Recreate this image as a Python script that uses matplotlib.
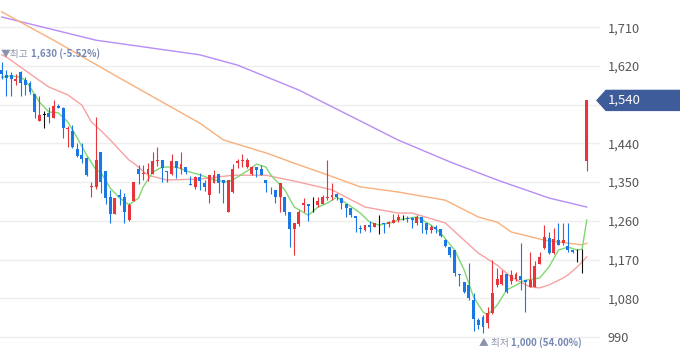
import matplotlib.pyplot as plt
from matplotlib.patches import Polygon
from matplotlib.transforms import IdentityTransform

plt.rcParams['font.family'] = ['Noto Sans CJK KR', 'DejaVu Sans']

# daily OHLC, oldest first
opens = [1610, 1599, 1599, 1584, 1607, 1587, 1580, 1556, 1492, 1506,
         1510, 1498, 1527, 1523, 1474, 1470, 1427, 1413, 1407, 1338,
         1338, 1421, 1376, 1315, 1277, 1320, 1315, 1262, 1307, 1380,
         1368, 1370, 1370, 1398, 1401, 1376, 1370, 1398, 1381, 1384,
         1346, 1338, 1363, 1349, 1320, 1347, 1368, 1355, 1281, 1328,
         1394, 1398, 1386, 1370, 1386, 1380, 1356, 1335, 1332, 1316,
         1316, 1281, 1242, 1252, 1297, 1298, 1305, 1297, 1300, 1312,
         1316, 1322, 1312, 1298, 1289, 1272, 1242, 1239, 1250, 1246,
         1254, 1256, 1253, 1254, 1262, 1268, 1267, 1266, 1256, 1268,
         1254, 1239, 1246, 1240, 1215, 1200, 1191, 1136, 1118, 1111,
         1077, 1030, 1037, 1022, 1045, 1111, 1114, 1136, 1120, 1125,
         1132, 1122, 1105, 1105, 1160, 1196, 1219, 1186, 1215, 1208,
         1202, 1191, 1187, 1187, 1400]
highs = [1630, 1611, 1605, 1601, 1608, 1595, 1584, 1556, 1551, 1515,
         1525, 1541, 1531, 1525, 1481, 1483, 1440, 1440, 1409, 1351,
         1501, 1421, 1376, 1332, 1312, 1335, 1324, 1301, 1351, 1390,
         1390, 1394, 1421, 1431, 1401, 1376, 1415, 1398, 1420, 1386,
         1364, 1364, 1372, 1355, 1367, 1378, 1368, 1355, 1355, 1392,
         1403, 1415, 1405, 1387, 1386, 1390, 1356, 1339, 1332, 1347,
         1316, 1281, 1254, 1286, 1312, 1298, 1316, 1316, 1320, 1401,
         1347, 1325, 1312, 1298, 1289, 1272, 1250, 1250, 1259, 1256,
         1273, 1256, 1260, 1277, 1277, 1273, 1271, 1270, 1274, 1270,
         1254, 1250, 1250, 1240, 1217, 1200, 1192, 1136, 1118, 1163,
         1091, 1034, 1040, 1060, 1170, 1150, 1146, 1136, 1146, 1140,
         1209, 1122, 1187, 1167, 1188, 1250, 1235, 1243, 1254, 1254,
         1254, 1192, 1194, 1194, 1540]
lows = [1590, 1551, 1551, 1576, 1551, 1553, 1556, 1500, 1492, 1475,
        1487, 1498, 1522, 1452, 1432, 1429, 1409, 1394, 1365, 1316,
        1335, 1324, 1299, 1256, 1275, 1297, 1256, 1260, 1307, 1346,
        1356, 1353, 1368, 1388, 1351, 1351, 1367, 1359, 1369, 1370,
        1343, 1335, 1332, 1329, 1301, 1347, 1324, 1301, 1281, 1325,
        1382, 1386, 1382, 1366, 1361, 1367, 1328, 1322, 1301, 1281,
        1274, 1200, 1180, 1248, 1281, 1260, 1281, 1293, 1300, 1308,
        1308, 1308, 1287, 1270, 1270, 1235, 1231, 1236, 1235, 1246,
        1229, 1231, 1246, 1254, 1258, 1262, 1258, 1243, 1250, 1231,
        1229, 1231, 1231, 1223, 1198, 1177, 1132, 1108, 1093, 1077,
        1003, 1008, 1000, 1010, 1043, 1105, 1110, 1093, 1112, 1120,
        1099, 1049, 1105, 1105, 1160, 1194, 1184, 1184, 1203, 1204,
        1188, 1185, 1165, 1139, 1376]
closes = [1601, 1591, 1590, 1590, 1580, 1576, 1560, 1512, 1506, 1506,
          1501, 1527, 1523, 1477, 1477, 1432, 1411, 1404, 1367, 1342,
          1401, 1351, 1312, 1277, 1312, 1316, 1281, 1297, 1351, 1368,
          1372, 1380, 1398, 1401, 1382, 1373, 1398, 1382, 1392, 1373,
          1344, 1363, 1353, 1339, 1367, 1367, 1347, 1347, 1355, 1380,
          1398, 1401, 1401, 1386, 1378, 1367, 1349, 1333, 1315, 1347,
          1281, 1242, 1254, 1280, 1301, 1294, 1305, 1305, 1316, 1316,
          1320, 1316, 1301, 1289, 1274, 1266, 1241, 1250, 1246, 1254,
          1254, 1253, 1257, 1262, 1270, 1268, 1264, 1262, 1270, 1256,
          1239, 1245, 1240, 1225, 1201, 1180, 1138, 1133, 1095, 1080,
          1031, 1018, 1012, 1045, 1093, 1125, 1134, 1095, 1135, 1136,
          1122, 1118, 1122, 1155, 1177, 1223, 1186, 1217, 1204, 1215,
          1192, 1187, 1187, 1187, 1540]

# moving averages (candle index, price)
ma5_idx = [0, 2, 4, 5, 6, 8, 10, 12, 14, 16, 18, 20, 21, 23, 25, 27, 29, 30, 32,
           34, 37, 40, 42, 45, 48, 50, 53, 54, 56, 57, 60, 62, 65, 67, 69, 71,
           73, 76, 78, 80, 83, 84, 88, 91, 93, 96, 98, 100, 102, 103, 105, 107,
           111, 114, 116, 118, 120, 122, 123, 124]
ma5_val = [1594, 1597, 1594, 1587, 1571, 1536, 1513, 1511, 1490, 1453, 1413,
           1378, 1373, 1336, 1313, 1297, 1313, 1339, 1373, 1385, 1385, 1373,
           1367, 1355, 1350, 1362, 1383, 1392, 1385, 1367, 1332, 1292, 1273,
           1292, 1301, 1315, 1301, 1278, 1257, 1250, 1257, 1262, 1269, 1250,
           1232, 1192, 1146, 1083, 1048, 1041, 1064, 1099, 1122, 1127, 1153,
           1192, 1199, 1192, 1194, 1262]
ma20_idx = [0, 1, 7, 10, 14, 17, 19, 21, 23, 27, 28, 31, 35, 42, 49, 56, 63,
            70, 77, 84, 87, 94, 101, 105, 108, 112, 114, 116, 119, 120, 122, 124]
ma20_val = [1646, 1641, 1594, 1571, 1553, 1529, 1490, 1470, 1448, 1401, 1394,
            1366, 1355, 1357, 1366, 1366, 1350, 1332, 1292, 1278, 1278, 1255,
            1185, 1157, 1129, 1106, 1104, 1111, 1127, 1134, 1153, 1176]
ma60_idx = [0, 11, 25, 42, 47, 56, 63, 69, 76, 84, 94, 101, 105, 108, 115, 123, 124]
ma60_val = [1746, 1680, 1592, 1487, 1448, 1418, 1390, 1367, 1339, 1327, 1308,
            1269, 1257, 1234, 1215, 1204, 1208]
ma120_idx = [0, 20, 42, 50, 63, 84, 95, 105, 116, 124]
ma120_val = [1734, 1680, 1646, 1622, 1564, 1448, 1397, 1355, 1313, 1292]

yticks = [990, 1080, 1170, 1260, 1350, 1440, 1530, 1620, 1710]

UP = '#e8353b'
DOWN = '#1a78e6'
FLAT = '#111111'

fig = plt.figure(figsize=(6.8, 3.58), dpi=100)
ax = fig.add_axes([0, 0, 600 / 680, 1])
for s in ax.spines.values():
    s.set_visible(False)

ax.set_xlim(-0.36, 126.8)
ax.set_ylim(941, 1773.5)
ax.set_yticks(yticks)
ax.set_yticklabels(['' if t == 1530 else f'{t:,}' for t in yticks])
ax.yaxis.tick_right()
ax.tick_params(axis='y', length=0, pad=5.5, labelsize=9.2, labelcolor='#555555')
ax.set_xticks([])
ax.grid(True, axis='y', color='#eeeeee', lw=1)
ax.set_axisbelow(True)

# moving averages
ax.plot(ma120_idx, ma120_val, color='#b68cf6', lw=1.0)
ax.plot(ma60_idx, ma60_val, color='#f8b07c', lw=1.0)
ax.plot(ma20_idx, ma20_val, color='#f7a2a2', lw=1.0)
ax.plot(ma5_idx, ma5_val, color='#80d873', lw=1.0)

# candles
idx = list(range(len(closes)))
cols = [UP if c > o else DOWN if c < o else FLAT for o, c in zip(opens, closes)]
ax.vlines(idx, lows, highs, colors=cols, lw=0.8, zorder=3)
bottoms = [min(o, c) for o, c in zip(opens, closes)]
heights = [max(abs(c - o), 1.5) for o, c in zip(opens, closes)]
ax.bar(idx, heights, bottom=bottoms, width=0.62, color=cols, lw=0, zorder=4)

last = closes[-1]
hi_i = highs.index(max(highs))
lo_i = lows.index(min(lows))
hi = highs[hi_i]
lo = lows[lo_i]

# max / min markers
t1 = ax.annotate('▼최고', xy=(hi_i, hi), xytext=(-1, 2), textcoords='offset points',
                 ha='left', va='bottom', fontsize=7, color='#8a93ad')
ax.annotate(f'{hi:,} ({(last - hi) / hi * 100:.2f}%)', xy=(1, 0), xycoords=t1,
            xytext=(2, 0), textcoords='offset points', ha='left', va='bottom',
            fontsize=7, color='#7687b3', weight='bold')
t2 = ax.annotate('▲ 최저', xy=(lo_i, lo), xytext=(-3, -4), textcoords='offset points',
                 ha='left', va='top', fontsize=7, color='#8a93ad')
ax.annotate(f'{lo:,} ({(last - lo) / lo * 100:.2f}%)', xy=(1, 0), xycoords=t2,
            xytext=(2, 0), textcoords='offset points', ha='left', va='bottom',
            fontsize=7, color='#7687b3', weight='bold')

# last price badge
fig.canvas.draw()
yd = ax.transData.transform((0, last))[1]
badge = Polygon([(597, yd), (606, yd + 10), (680, yd + 10), (680, yd - 10), (606, yd - 10)],
                closed=True, transform=IdentityTransform(), color='#3f5c9a', zorder=10)
fig.patches.append(badge)
fig.text(608, yd, f'{last:,}', transform=IdentityTransform(), color='white',
         fontsize=9.5, va='center', ha='left', zorder=11)

fig.savefig('out.png', dpi=100)
